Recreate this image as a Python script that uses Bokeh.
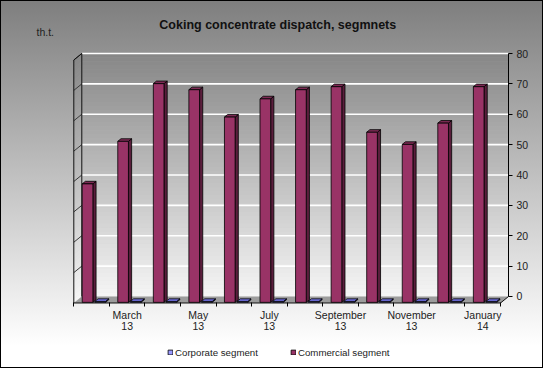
from bokeh.plotting import figure
from bokeh.models import Range1d, FixedTicker, Label, Legend, LegendItem
from bokeh.embed import file_html
from bokeh.resources import INLINE

# ---- data ----
months = ["February 13", "March 13", "April 13", "May 13", "June 13", "July 13",
          "August 13", "September 13", "October 13", "November 13", "December 13", "January 14"]
tick_labels = ["", "March\n13", "", "May\n13", "", "July\n13", "",
               "September\n13", "", "November\n13", "", "January\n14"]
commercial = [39, 53, 72, 70, 61, 67, 70, 71, 56, 52, 59, 71]
corporate = [0.3, 0.3, 0.3, 0.3, 0.3, 0.3, 0.3, 0.3, 0.3, 0.3, 0.3, 0.3]
y_ticks = [0, 10, 20, 30, 40, 50, 60, 70, 80]

FONT = "Liberation Sans"
n = len(months)

# ---- 3D geometry (in data units) ----
DX = 0.225      # depth shift in x (front -> back)
DY = 2.14       # depth shift in y (front -> back)
YMAX = y_ticks[-1]
W, H = 543, 368

p = figure(width=W, height=H,
           x_range=Range1d(-2.0613, 13.2087), y_range=Range1d(-23.704, 97.449),
           output_backend="svg", toolbar_location=None, title=None,
           x_axis_location="below", y_axis_location="right",
           min_border=0, min_border_left=0, min_border_right=0,
           min_border_top=0, min_border_bottom=0)
p.border_fill_alpha = 0
p.background_fill_alpha = 0
p.outline_line_color = None
p.grid.visible = False
p.styles = {"background": "linear-gradient(to bottom, #7e7e7e 0%, #c6c6c6 52%, #ffffff 94%)",
            "outline": "1px solid #000", "outline-offset": "-1px"}


def lerp_color(c1, c2, t):
    r = int(round(c1[0] + (c2[0] - c1[0]) * t))
    g = int(round(c1[1] + (c2[1] - c1[1]) * t))
    b = int(round(c1[2] + (c2[2] - c1[2]) * t))
    return "#%02x%02x%02x" % (r, g, b)


# wall gradient bands
NB = 60
top_c, bot_c = (0x86, 0x86, 0x86), (0xf6, 0xf6, 0xf6)
bx0, bx1, by0, by1, cols = [], [], [], [], []
lw_xs, lw_ys = [], []
for k in range(NB):
    y0 = YMAX * k / NB
    y1 = YMAX * (k + 1) / NB
    c = lerp_color(bot_c, top_c, (k + 0.5) / NB)
    bx0.append(DX); bx1.append(n + DX); by0.append(y0); by1.append(y1); cols.append(c)
    lw_xs.append([0, 0, DX, DX]); lw_ys.append([y0 - DY, y1 - DY, y1, y0])
p.quad(left=bx0, right=bx1, bottom=by0, top=by1, fill_color=cols, line_color=None)
p.patches(xs=lw_xs, ys=lw_ys, fill_color=cols, line_color=None)

# floor
p.patch([0, n, n + DX, DX], [-DY, -DY, 0, 0], fill_color="#9c9c9c", line_color=None)

# gridlines on back wall and left wall
gy = y_ticks[1:]
p.segment(x0=[DX] * len(gy), y0=gy, x1=[n + DX] * len(gy), y1=gy, line_color="white", line_width=1.6)
p.segment(x0=[0] * len(gy), y0=[g - DY for g in gy], x1=[DX] * len(gy), y1=gy,
          line_color="#3a3a3a", line_width=1)

# edges
p.segment(x0=[0, 0, DX, 0, n], y0=[-DY, YMAX - DY, 0, -DY, -DY],
          x1=[0, DX, DX, n, n + DX], y1=[YMAX - DY, YMAX, YMAX, -DY, 0],
          line_color="#111111", line_width=1)


# ---- 3D bars ----
def bar3d(values, offset, bw, front, side, top, t1=0.1, t2=0.5):
    lefts, rights, bottoms, tops = [], [], [], []
    sxs, sys, txs, tys = [], [], [], []
    for i, v in enumerate(values):
        xl = i + offset + t1 * DX
        xr = xl + bw
        yb = -(1 - t1) * DY
        ddx = (t2 - t1) * DX
        ddy = (t2 - t1) * DY
        lefts.append(xl); rights.append(xr); bottoms.append(yb); tops.append(yb + v)
        sxs.append([xr, xr + ddx, xr + ddx, xr]); sys.append([yb, yb + ddy, yb + ddy + v, yb + v])
        txs.append([xl, xr, xr + ddx, xl + ddx]); tys.append([yb + v, yb + v, yb + v + ddy, yb + v + ddy])
    p.patches(xs=sxs, ys=sys, fill_color=side, line_color="#000000", line_width=0.8)
    p.patches(xs=txs, ys=tys, fill_color=top, line_color="#000000", line_width=0.8)
    r = p.quad(left=lefts, right=rights, bottom=bottoms, top=tops,
               fill_color=front, line_color="#000000", line_width=0.8)
    return r


r_comm = bar3d(commercial, 0.214, 0.30, "#993366", "#5a1e3c", "#7d2a54")
r_corp = bar3d(corporate, 0.57, 0.30, "#9999ff", "#4c4ca0", "#7070e0")

# ---- axes ----
yax = p.yaxis[0]
yax.fixed_location = n + DX
yax.ticker = FixedTicker(ticks=y_ticks)
yax.bounds = (0, YMAX)
yax.axis_line_color = "#000000"
yax.major_tick_line_color = "#000000"
yax.major_tick_out = 4
yax.major_tick_in = 0
yax.minor_tick_line_color = None
yax.major_label_standoff = 4
yax.major_label_text_font = FONT
yax.major_label_text_font_size = "10.5px"
yax.major_label_text_color = "#222222"

xax = p.xaxis[0]
xax.fixed_location = -DY
centers = [i + 0.5 for i in range(n)]
xax.ticker = FixedTicker(ticks=centers, minor_ticks=list(range(n + 1)))
xax.major_label_overrides = {c: lab for c, lab in zip(centers, tick_labels)}
xax.axis_line_color = None
xax.major_tick_line_color = None
xax.major_tick_out = 0
xax.major_tick_in = 0
xax.minor_tick_line_color = "#000000"
xax.minor_tick_in = 0
xax.minor_tick_out = 4
xax.major_label_standoff = 2
xax.major_label_text_font = FONT
xax.major_label_text_font_size = "10.5px"
xax.major_label_text_color = "#222222"
xax.major_label_text_line_height = 0.95

# ---- texts ----
p.add_layout(Label(x=279, y=H - 24, x_units="screen", y_units="screen",
                   text="Coking concentrate  dispatch, segmnets", text_align="center",
                   text_baseline="alphabetic", text_font=FONT, text_font_style="bold",
                   text_font_size="12.5px", text_color="#111111"))
p.add_layout(Label(x=36, y=H - 31, x_units="screen", y_units="screen",
                   text="th.t.", text_align="left", text_baseline="alphabetic",
                   text_font=FONT, text_font_size="10.5px", text_color="#222222"))

# ---- legend ----
legend = Legend(items=[LegendItem(label="Corporate segment", renderers=[r_corp]),
                       LegendItem(label="Commercial segment", renderers=[r_comm])],
                orientation="horizontal", location=(167, H - 358),
                padding=0, margin=0, spacing=32, label_standoff=2,
                glyph_width=6, glyph_height=6,
                border_line_color=None, background_fill_alpha=0,
                label_text_font=FONT, label_text_font_size="9.7px",
                label_text_color="#222222", label_height=12)
p.add_layout(legend, "center")

open("out.html", "w").write(file_html(p, INLINE))
